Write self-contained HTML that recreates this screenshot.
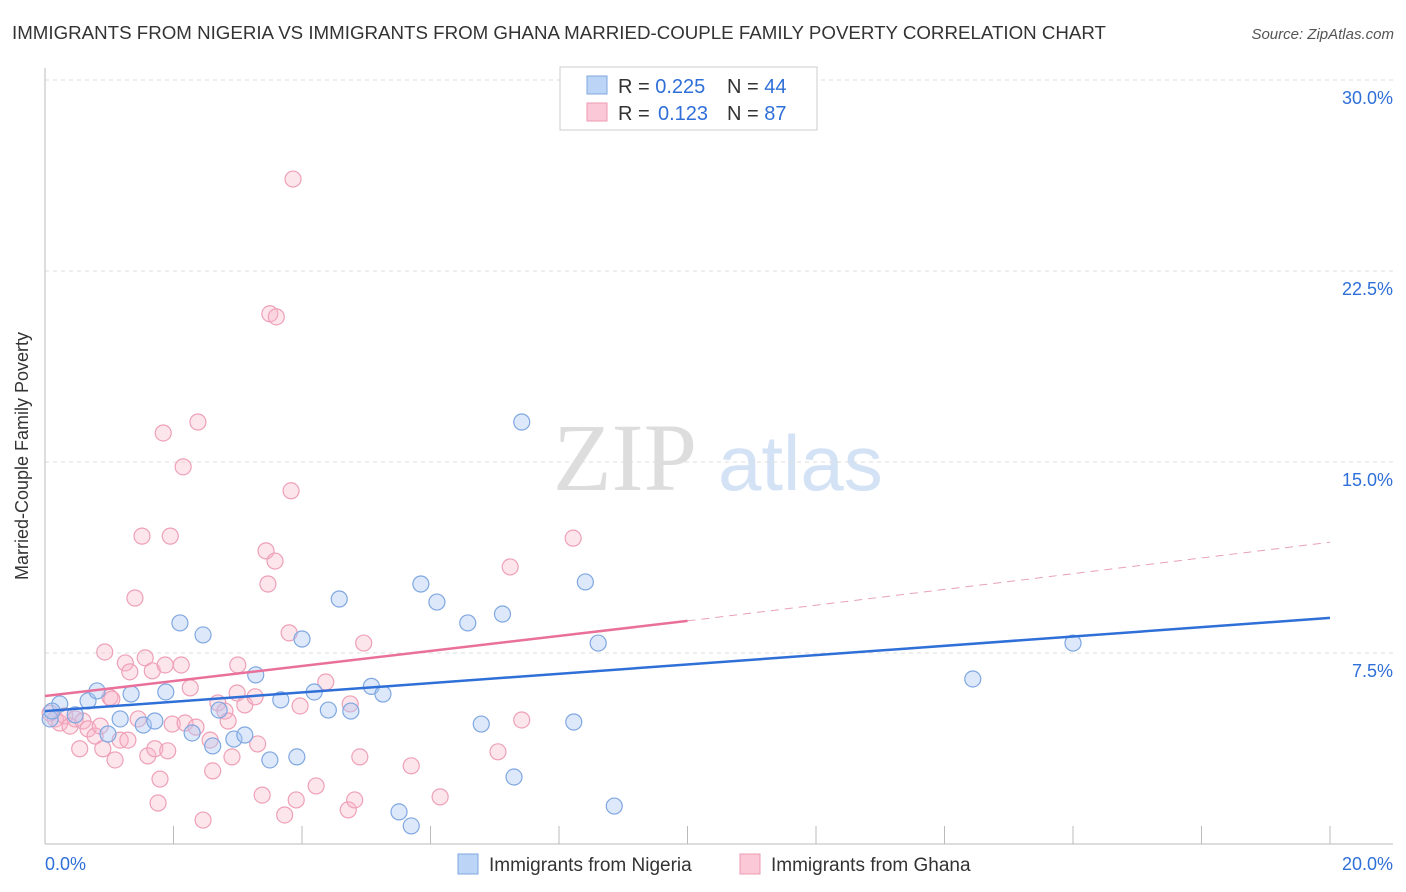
<!DOCTYPE html>
<html><head><meta charset="utf-8">
<style>
body{margin:0;background:#fff;font-family:"Liberation Sans",sans-serif;}
#wrap{position:relative;width:1406px;height:892px;overflow:hidden;}
</style></head>
<body><div id="wrap">
<svg id="svg" width="1406" height="892" xmlns="http://www.w3.org/2000/svg">
<text x="12" y="39" font-size="18" fill="#333" textLength="1094" lengthAdjust="spacingAndGlyphs">IMMIGRANTS FROM NIGERIA VS IMMIGRANTS FROM GHANA MARRIED-COUPLE FAMILY POVERTY CORRELATION CHART</text>
<text x="1394" y="39" font-size="15" fill="#555" font-style="italic" text-anchor="end">Source: ZipAtlas.com</text>
<text x="28" y="456" font-size="18" fill="#333" text-anchor="middle" transform="rotate(-90 28 456)">Married-Couple Family Poverty</text>
<g>
<text x="553" y="490" font-size="96" fill="#ddd" font-family="Liberation Serif,serif">ZIP</text>
<text x="718" y="490" font-size="78" fill="#d4e2f5">atlas</text>
</g>
<g id="grid"></g><g id="axes"></g><g id="pts"></g><g id="trend"></g>
<g>
<rect x="560" y="67" width="257" height="63" fill="#fff" stroke="#ccc"/>
<rect x="587" y="76" width="20" height="18" fill="#bcd4f5" stroke="#7fa7e0"/>
<rect x="587" y="103" width="20" height="18" fill="#fbc8d7" stroke="#ee9ab2"/>
<text x="618" y="93" font-size="20" fill="#333">R = <tspan fill="#2f6fd8">0.225</tspan><tspan x="727">N = </tspan><tspan fill="#2f6fd8">44</tspan></text>
<text x="618" y="120" font-size="20" fill="#333">R = <tspan fill="#2f6fd8" x="658">0.123</tspan><tspan x="727">N = </tspan><tspan fill="#2f6fd8">87</tspan></text>
</g>
<g>
<rect x="458" y="854" width="20" height="20" fill="#bcd4f5" stroke="#7fa7e0"/>
<text x="489" y="871" font-size="19" fill="#333">Immigrants from Nigeria</text>
<rect x="740" y="854" width="20" height="20" fill="#fbc8d7" stroke="#ee9ab2"/>
<text x="771" y="871" font-size="19" fill="#333">Immigrants from Ghana</text>
</g>
</svg>
<script>
const yTicks=[7.5,15,22.5,30];
const yTickLabels=["7.5%","15.0%","22.5%","30.0%"];
const xTicks=[0,2,4,6,8,10,12,14,16,18,20];
const nigeriaX=[0.08,0.23,0.11,0.47,0.67,0.81,0.98,1.17,1.34,1.53,1.71,1.88,2.10,2.29,2.46,2.61,2.71,2.94,3.11,3.28,3.50,3.67,3.92,4.00,4.19,4.41,4.58,4.76,5.08,5.26,5.51,5.70,5.85,6.10,6.58,6.79,7.12,7.30,7.42,8.23,8.41,8.61,8.86,14.44,16.0];
const nigeriaY=[4.91,5.50,5.22,5.07,5.62,6.01,4.32,4.91,5.89,4.67,4.83,5.97,8.68,4.36,8.21,3.85,5.26,4.12,4.28,6.64,3.30,5.66,3.42,8.05,5.97,5.26,9.62,5.22,6.19,5.89,1.26,0.71,10.21,9.50,8.68,4.71,9.03,2.63,16.57,4.79,10.29,7.89,1.49,6.48,7.89];
const ghanaX=[0.08,0.16,0.23,0.31,0.39,0.47,0.54,0.59,0.67,0.78,0.86,0.90,0.93,1.01,1.04,1.09,1.17,1.25,1.29,1.32,1.40,1.45,1.51,1.56,1.60,1.67,1.71,1.76,1.79,1.84,1.87,1.91,1.95,1.98,2.12,2.15,2.18,2.26,2.35,2.38,2.46,2.57,2.61,2.69,2.80,2.85,2.91,2.99,3.00,3.11,3.27,3.31,3.38,3.44,3.47,3.50,3.58,3.60,3.73,3.80,3.83,3.86,3.91,3.97,4.22,4.37,4.72,4.75,4.82,4.90,4.96,5.70,6.15,7.05,7.24,7.42,8.22];
const ghanaY=[5.14,4.91,4.75,5.03,4.63,4.91,3.74,4.83,4.52,4.24,4.63,3.74,7.54,5.76,5.69,3.30,4.08,7.11,4.08,6.76,9.66,4.91,12.09,7.31,3.46,6.80,3.74,1.61,2.55,16.14,7.03,3.66,12.09,4.71,7.03,14.81,4.75,6.13,4.59,16.57,0.94,4.08,2.87,5.54,5.22,4.83,3.42,5.93,7.03,5.46,5.78,3.93,1.92,11.51,10.21,20.82,11.11,20.70,1.14,8.29,13.87,26.11,1.73,5.42,2.28,6.36,1.34,5.50,1.73,3.42,7.89,3.07,1.85,3.62,10.88,4.87,12.01];
const nigeriaTrend=[5.22,8.88];
const ghanaTrend=[5.81,8.76,11.85];
const NS="http://www.w3.org/2000/svg";
const x0=45,x1=1330,yb=844,ppy=191/7.5;
const X=v=>x0+(v/20)*(x1-x0), Y=v=>yb-v*ppy;
function mk(tag,attrs,parent){const e=document.createElementNS(NS,tag);for(const k in attrs)e.setAttribute(k,attrs[k]);document.getElementById(parent).appendChild(e);return e;}
yTicks.forEach((t,i)=>{
 const l=mk('line',{x1:x0,x2:1393,y1:Y(t),y2:Y(t),stroke:'#ddd','stroke-dasharray':'4,4'},'grid');
 
 
 const tx=mk('text',{x:1393,y:Y(t)+24,'font-size':18,fill:'#2f6fd8','text-anchor':'end'},'axes');
 tx.textContent=yTickLabels[i];
 
 
});
const ax=mk('line',{x1:x0,x2:x0,y1:68,y2:yb,stroke:'#bbb'},'axes');


const bx=mk('line',{x1:x0,x2:1393,y1:yb,y2:yb,stroke:'#bbb'},'axes');


xTicks.forEach(t=>{
 const l=mk('line',{x1:X(t),x2:X(t),y1:826,y2:yb,stroke:'#bbb'},'axes');
 
 
});
[[0,'0.0%','start',45],[20,'20.0%','end',1393]].forEach(a=>{
 const t=mk('text',{x:a[3],y:870,'font-size':18,fill:'#2f6fd8','text-anchor':a[2]},'axes');
 t.textContent=a[1];
 
 
});
ghanaX.forEach((v,i)=>{
 const c=mk('circle',{cx:X(v),cy:Y(ghanaY[i]),r:8,fill:'rgba(248,180,200,0.35)',stroke:'#eea0b8','stroke-width':1.2},'pts');
 
 
});
nigeriaX.forEach((v,i)=>{
 const c=mk('circle',{cx:X(v),cy:Y(nigeriaY[i]),r:8,fill:'rgba(170,200,245,0.4)',stroke:'#7fa7e0','stroke-width':1.2},'pts');
 
 
});
const bl=mk('line',{x1:X(0),y1:Y(nigeriaTrend[0]),x2:X(20),y2:Y(nigeriaTrend[1]),stroke:'#2f6fd8','stroke-width':2.5},'trend');


const pl=mk('line',{x1:X(0),y1:Y(ghanaTrend[0]),x2:X(10),y2:Y(ghanaTrend[1]),stroke:'#e8709a','stroke-width':2.5},'trend');


const pd=mk('line',{x1:X(10),y1:Y(ghanaTrend[1]),x2:X(20),y2:Y(ghanaTrend[2]),stroke:'#e8a0b8','stroke-width':1,'stroke-dasharray':'8,6'},'trend');


</script>
</div></body></html>
